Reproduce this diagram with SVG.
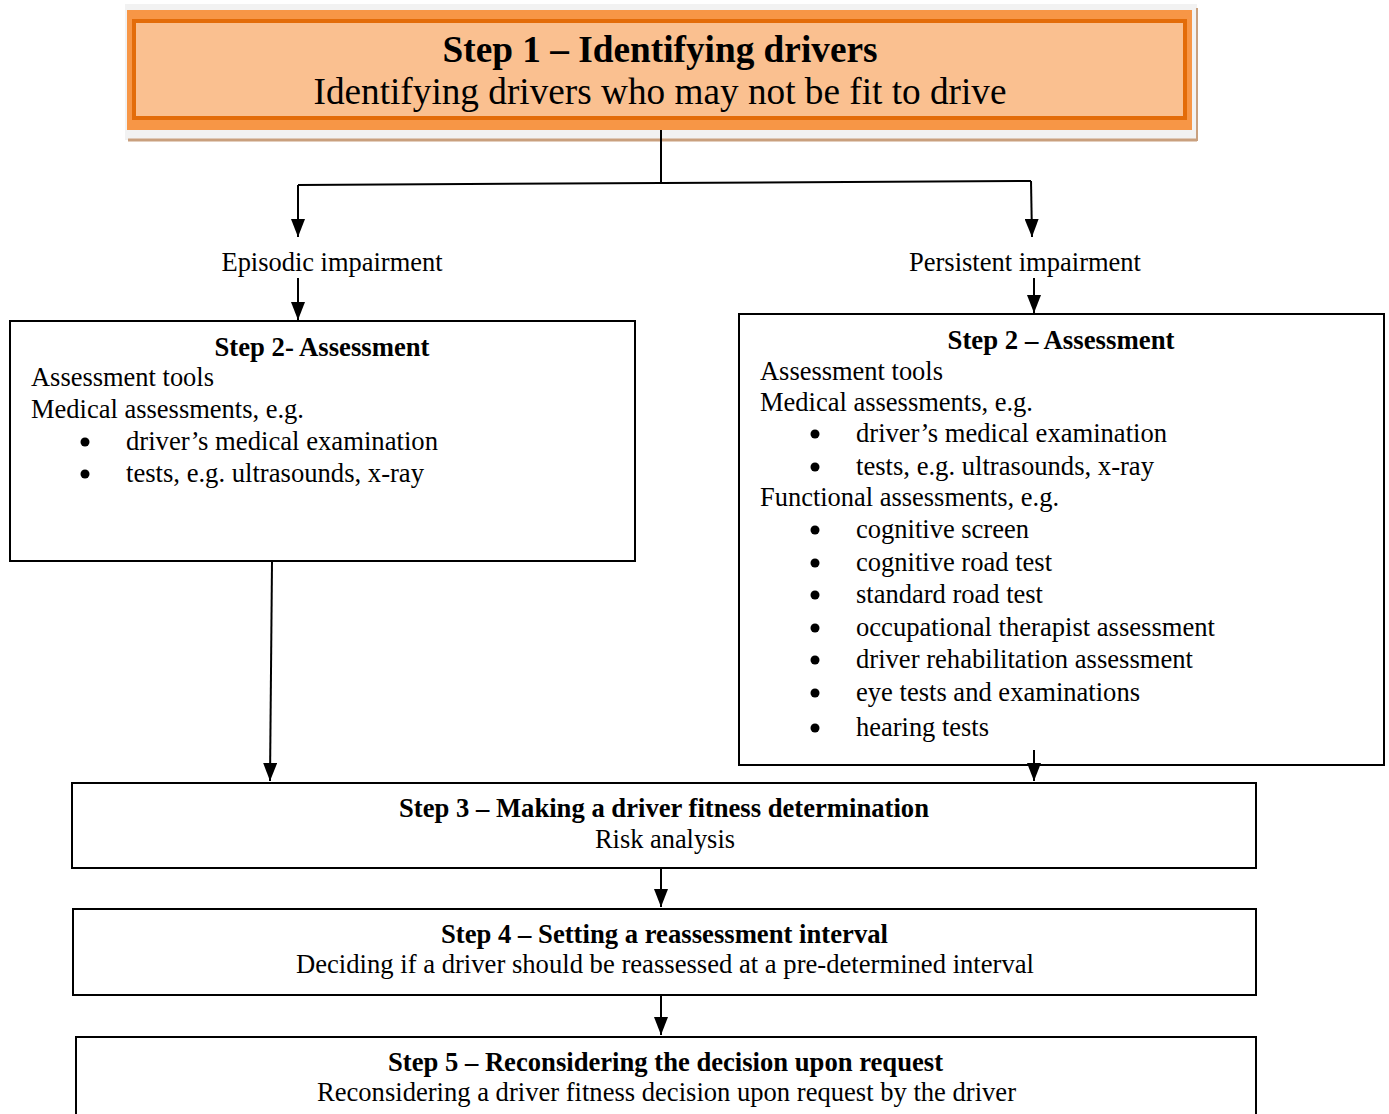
<svg xmlns="http://www.w3.org/2000/svg" width="1389" height="1114" viewBox="0 0 1389 1114">
<style>
text{font-family:"Liberation Serif","Times New Roman",serif;fill:#000}
.t{font-size:26.5px}
.b{font-size:26.5px;font-weight:bold}
.c{text-anchor:middle}
.box{fill:#fff;stroke:#000;stroke-width:2}
.ln{fill:none;stroke:#000;stroke-width:2}
</style>
<defs>
<marker id="ahd" markerUnits="userSpaceOnUse" markerWidth="18" markerHeight="14" viewBox="0 0 18 14" refX="18" refY="7" orient="auto">
<path d="M0,0 L18,7 L0,14 Z" fill="#000"/>
</marker>
</defs>

<g id="step1">
<rect x="125" y="4" width="1072" height="136" fill="#f2f2f2"/>
<line x1="128" y1="140" x2="1197" y2="140" stroke="#c9a07e" stroke-width="3"/>
<line x1="1197" y1="8" x2="1197" y2="141" stroke="#c9a07e" stroke-width="2"/>
<rect x="127" y="10" width="1065" height="120" fill="#f79646"/>
<rect x="134" y="21" width="1051" height="97" fill="#fac090" stroke="#e36c09" stroke-width="4"/>
<text x="660" y="62" class="c" style="font-size:37.5px;font-weight:bold" textLength="435" lengthAdjust="spacingAndGlyphs">Step 1 – Identifying drivers</text>
<text x="660" y="104" class="c" style="font-size:37.5px" textLength="693" lengthAdjust="spacingAndGlyphs">Identifying drivers who may not be fit to drive</text>
</g>

<g id="label-episodic">
<text x="332" y="271" class="t c" textLength="221" lengthAdjust="spacingAndGlyphs">Episodic impairment</text>
</g>
<g id="label-persistent">
<text x="1025" y="271" class="t c" textLength="232" lengthAdjust="spacingAndGlyphs">Persistent impairment</text>
</g>

<g id="step2-episodic">
<rect class="box" x="10" y="321" width="625" height="240"/>
<text x="322" y="356" class="b c" textLength="215" lengthAdjust="spacingAndGlyphs">Step 2- Assessment</text>
<text x="31" y="386" class="t" textLength="183" lengthAdjust="spacingAndGlyphs">Assessment tools</text>
<text x="31" y="418" class="t" textLength="273" lengthAdjust="spacingAndGlyphs">Medical assessments, e.g.</text>
<circle cx="85" cy="442" r="4.5"/><text x="126" y="450" class="t" textLength="312" lengthAdjust="spacingAndGlyphs">driver’s medical examination</text>
<circle cx="85" cy="474" r="4.5"/><text x="126" y="482" class="t" textLength="298" lengthAdjust="spacingAndGlyphs">tests, e.g. ultrasounds, x-ray</text>
</g>

<g id="step2-persistent">
<rect class="box" x="739" y="314" width="645" height="451"/>
<text x="1061" y="349" class="b c" textLength="227" lengthAdjust="spacingAndGlyphs">Step 2 – Assessment</text>
<text x="760" y="380" class="t" textLength="183" lengthAdjust="spacingAndGlyphs">Assessment tools</text>
<text x="760" y="411" class="t" textLength="273" lengthAdjust="spacingAndGlyphs">Medical assessments, e.g.</text>
<circle cx="815" cy="434" r="4.5"/><text x="856" y="442" class="t" textLength="311" lengthAdjust="spacingAndGlyphs">driver’s medical examination</text>
<circle cx="815" cy="467" r="4.5"/><text x="856" y="475" class="t" textLength="298" lengthAdjust="spacingAndGlyphs">tests, e.g. ultrasounds, x-ray</text>
<text x="760" y="506" class="t" textLength="299" lengthAdjust="spacingAndGlyphs">Functional assessments, e.g.</text>
<circle cx="815" cy="530" r="4.5"/><text x="856" y="538" class="t" textLength="173" lengthAdjust="spacingAndGlyphs">cognitive screen</text>
<circle cx="815" cy="563" r="4.5"/><text x="856" y="571" class="t" textLength="196" lengthAdjust="spacingAndGlyphs">cognitive road test</text>
<circle cx="815" cy="595" r="4.5"/><text x="856" y="603" class="t" textLength="187" lengthAdjust="spacingAndGlyphs">standard road test</text>
<circle cx="815" cy="628" r="4.5"/><text x="856" y="636" class="t" textLength="359" lengthAdjust="spacingAndGlyphs">occupational therapist assessment</text>
<circle cx="815" cy="660" r="4.5"/><text x="856" y="668" class="t" textLength="337" lengthAdjust="spacingAndGlyphs">driver rehabilitation assessment</text>
<circle cx="815" cy="693" r="4.5"/><text x="856" y="701" class="t" textLength="284" lengthAdjust="spacingAndGlyphs">eye tests and examinations</text>
<circle cx="815" cy="728" r="4.5"/><text x="856" y="736" class="t" textLength="133" lengthAdjust="spacingAndGlyphs">hearing tests</text>
</g>

<g id="step3">
<rect class="box" x="72" y="783" width="1184" height="85"/>
<text x="664" y="817" class="b c" textLength="530" lengthAdjust="spacingAndGlyphs">Step 3 – Making a driver fitness determination</text>
<text x="665" y="848" class="t c" textLength="140" lengthAdjust="spacingAndGlyphs">Risk analysis</text>
</g>

<g id="step4">
<rect class="box" x="73" y="909" width="1183" height="86"/>
<text x="664.5" y="943" class="b c" textLength="447" lengthAdjust="spacingAndGlyphs">Step 4 – Setting a reassessment interval</text>
<text x="665" y="973" class="t c" textLength="738" lengthAdjust="spacingAndGlyphs">Deciding if a driver should be reassessed at a pre-determined interval</text>
</g>

<g id="step5">
<rect class="box" x="76" y="1037" width="1180" height="90"/>
<text x="665.5" y="1071" class="b c" textLength="555" lengthAdjust="spacingAndGlyphs">Step 5 – Reconsidering the decision upon request</text>
<text x="666.5" y="1101" class="t c" textLength="699" lengthAdjust="spacingAndGlyphs">Reconsidering a driver fitness decision upon request by the driver</text>
</g>

<g id="connectors">
<path class="ln" d="M661,130 L661,184"/>
<path class="ln" d="M298,185 L1031,181"/>
<path class="ln" d="M298,185 L298,237" marker-end="url(#ahd)"/>
<path class="ln" d="M1031,181 L1032,237" marker-end="url(#ahd)"/>
<path class="ln" d="M298,278 L298,320" marker-end="url(#ahd)"/>
<path class="ln" d="M1034,278 L1034,313" marker-end="url(#ahd)"/>
<path class="ln" d="M272,562 L270,781" marker-end="url(#ahd)"/>
<path class="ln" d="M1034,750 L1034,781" marker-end="url(#ahd)"/>
<path class="ln" d="M661,869 L661,907" marker-end="url(#ahd)"/>
<path class="ln" d="M661,996 L661,1035" marker-end="url(#ahd)"/>
</g>
</svg>
